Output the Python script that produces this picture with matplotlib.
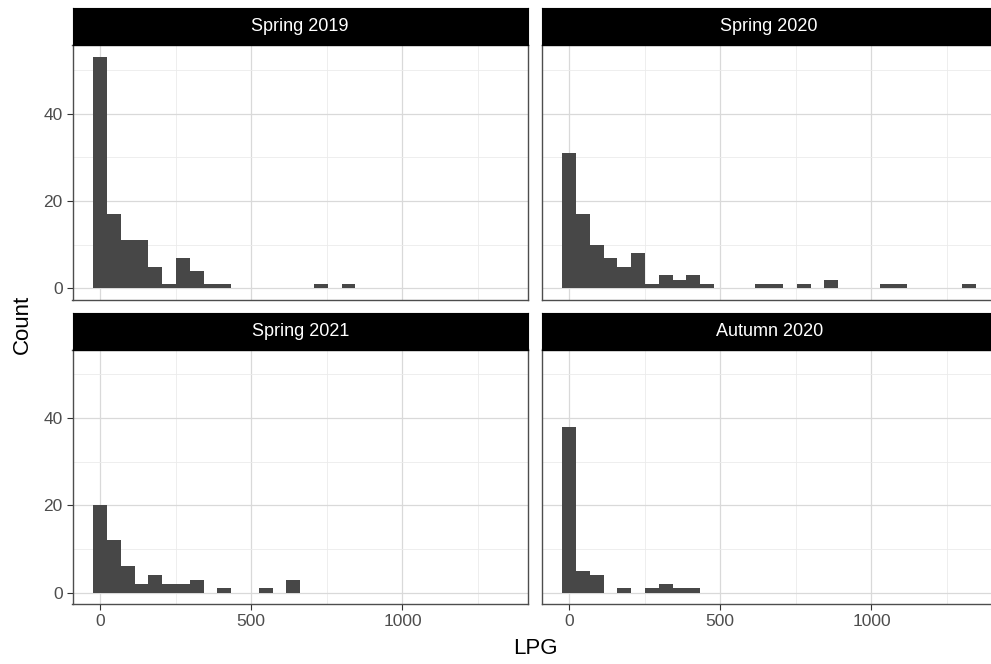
import numpy as np
import matplotlib
matplotlib.use("Agg")
import matplotlib.pyplot as plt
from matplotlib.ticker import MultipleLocator

plt.rcParams['font.family'] = ['Liberation Sans', 'DejaVu Sans']

# Histogram bins shared by all panels (30 bins, first centred on 0)
bin_width = 45.65
n_bins = 30
bin_edges = -bin_width / 2 + bin_width * np.arange(n_bins + 1)

panel_titles = ["Spring 2019", "Spring 2020", "Spring 2021", "Autumn 2020"]

spring_2019 = [53, 17, 11, 11, 5, 1, 7, 4, 1, 1, 0, 0, 0, 0, 0, 0, 1, 0, 1, 0,
               0, 0, 0, 0, 0, 0, 0, 0, 0, 0]
spring_2020 = [31, 17, 10, 7, 5, 8, 1, 3, 2, 3, 1, 0, 0, 0, 1, 1, 0, 1, 0, 2,
               0, 0, 0, 1, 1, 0, 0, 0, 0, 1]
spring_2021 = [20, 12, 6, 2, 4, 2, 2, 3, 0, 1, 0, 0, 1, 0, 3, 0, 0, 0, 0, 0,
               0, 0, 0, 0, 0, 0, 0, 0, 0, 0]
autumn_2020 = [38, 5, 4, 0, 1, 0, 1, 2, 1, 1, 0, 0, 0, 0, 0, 0, 0, 0, 0, 0,
               0, 0, 0, 0, 0, 0, 0, 0, 0, 0]
panel_counts = [spring_2019, spring_2020, spring_2021, autumn_2020]

x_major = [0, 500, 1000]
y_major = [0, 20, 40]

W, H = 991, 664
fig = plt.figure(figsize=(W / 100, H / 100), dpi=100)

# Shared scales with 5% expansion
x_lo, x_hi = bin_edges[0], bin_edges[-1]
x_pad = 0.05 * (x_hi - x_lo)
xlim = (x_lo - x_pad, x_hi + x_pad)
y_max = max(max(c) for c in panel_counts)
ylim = (-0.05 * y_max, y_max * 1.05)

# Panel geometry in pixels (left, top)
pw, ph = 455.5, 254.8
strip_h = 37.0
lefts = [72.5, 541.5]
tops = [45.2, 349.5]

bar_color = "#474747"
border_color = "#4d4d4d"
text_gray = "#4d4d4d"

for i, (title, counts) in enumerate(zip(panel_titles, panel_counts)):
    r, c = divmod(i, 2)
    lx, ty = lefts[c], tops[r]
    ax = fig.add_axes([lx / W, 1 - (ty + ph) / H, pw / W, ph / H])
    ax.bar(bin_edges[:-1], counts, width=bin_width, align='edge',
           color=bar_color, edgecolor='none', zorder=3)
    ax.set_xlim(*xlim)
    ax.set_ylim(*ylim)
    ax.xaxis.set_major_locator(MultipleLocator(500))
    ax.xaxis.set_minor_locator(MultipleLocator(250))
    ax.yaxis.set_major_locator(MultipleLocator(20))
    ax.yaxis.set_minor_locator(MultipleLocator(10))
    ax.grid(which='major', color='#d9d9d9', linewidth=0.9, zorder=0)
    ax.grid(which='minor', color='#ebebeb', linewidth=0.6, zorder=0)
    ax.set_axisbelow(True)
    for sp in ax.spines.values():
        sp.set_color(border_color)
        sp.set_linewidth(1.0)
    ax.tick_params(which='minor', length=0)
    ax.tick_params(which='major', length=4.5, width=0.8, color='#333333',
                   labelsize=12.5, labelcolor=text_gray, pad=2.5)
    if c == 0:
        ax.set_yticks(y_major)
        ax.set_yticklabels([str(v) for v in y_major])
    else:
        ax.tick_params(axis='y', which='major', length=0, labelleft=False)
    if r == 1:
        ax.set_xticks(x_major)
        ax.set_xticklabels([str(v) for v in x_major])
    else:
        ax.tick_params(axis='x', which='major', length=0, labelbottom=False)

    # facet strip
    sax = fig.add_axes([lx / W, 1 - ty / H, pw / W, strip_h / H])
    sax.set_facecolor('black')
    sax.set_xticks([])
    sax.set_yticks([])
    for sp in sax.spines.values():
        sp.set_color('black')
    sax.text(0.5, 0.5, title, color='white', fontsize=13,
             ha='center', va='center', transform=sax.transAxes)

fig.text(22 / W, 1 - 324.5 / H, "Count", rotation=90, fontsize=16,
         ha='center', va='center', color='black')
fig.text(535 / W, 1 - 648 / H, "LPG", fontsize=16,
         ha='center', va='center', color='black')

fig.savefig("out.png", dpi=100, facecolor='white')
